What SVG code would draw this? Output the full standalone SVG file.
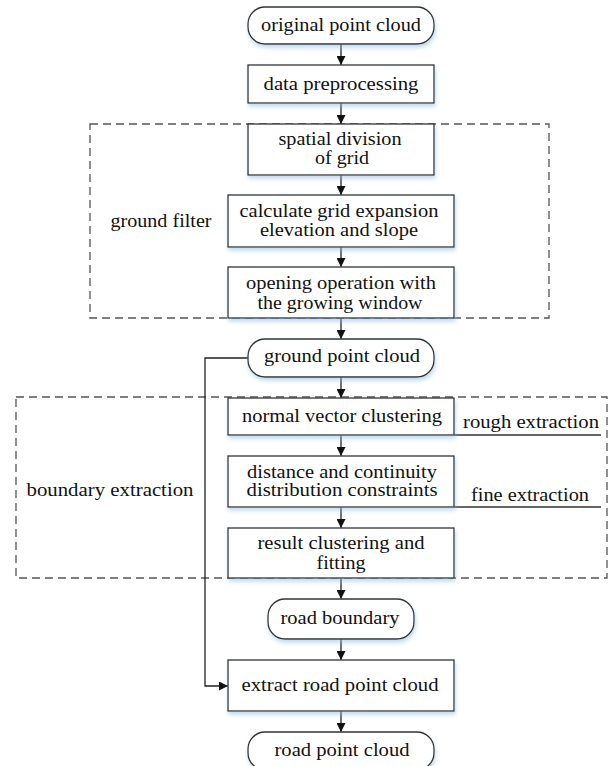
<svg xmlns="http://www.w3.org/2000/svg" width="610" height="766" viewBox="0 0 610 766">
<style>
.box{fill:#fff;stroke:#333;stroke-width:1.3;filter:url(#sh)}
.t{font-family:"Liberation Serif","DejaVu Serif",serif;font-size:19px;fill:#111;text-anchor:middle}
.dash{fill:none;stroke:#555;stroke-width:1.3;stroke-dasharray:8 5}
.ln{fill:none;stroke:#333;stroke-width:1.3}
.ar{fill:none;stroke:#222;stroke-width:1.3;marker-end:url(#ah)}
</style>
<defs>
<filter id="sh" x="-10%" y="-20%" width="130%" height="160%">
<feDropShadow dx="1" dy="3" stdDeviation="2" flood-color="#8fbbe0" flood-opacity="0.55"/>
</filter>
<marker id="ah" viewBox="0 0 10 10" refX="10" refY="5" markerWidth="9" markerHeight="9" markerUnits="userSpaceOnUse" orient="auto">
<path d="M0,0 L10,5 L0,10 z" fill="#111"/>
</marker>
</defs>
<rect width="610" height="766" fill="#fff"/>

<g id="groups">
<rect class="dash" x="90" y="124" width="459" height="194"/>
<rect class="dash" x="16" y="397" width="591" height="181"/>
</g>

<g id="connectors">
<line class="ar" x1="341" y1="44" x2="341" y2="65"/>
<line class="ar" x1="341" y1="103" x2="341" y2="124"/>
<line class="ar" x1="341" y1="175" x2="341" y2="195"/>
<line class="ar" x1="341" y1="247" x2="341" y2="267"/>
<line class="ar" x1="341" y1="318" x2="341" y2="339"/>
<line class="ar" x1="341" y1="377" x2="341" y2="398"/>
<line class="ar" x1="341" y1="435" x2="341" y2="456"/>
<line class="ar" x1="341" y1="507" x2="341" y2="528"/>
<line class="ar" x1="341" y1="578" x2="341" y2="599"/>
<line class="ar" x1="341" y1="639" x2="341" y2="660"/>
<line class="ar" x1="341" y1="711" x2="341" y2="732"/>
<polyline class="ar" points="248,358 205,358 205,686 228,686"/>
<line class="ln" x1="454" y1="435" x2="601" y2="435"/>
<line class="ln" x1="454" y1="507" x2="601" y2="507"/>
</g>

<g id="n-original">
<rect class="box" x="248" y="7" width="186" height="37" rx="17"/>
<text class="t" x="341" y="31" textLength="160" lengthAdjust="spacingAndGlyphs">original point cloud</text>
</g>
<g id="n-preprocess">
<rect class="box" x="248" y="65" width="186" height="38"/>
<text class="t" x="341" y="90" textLength="155" lengthAdjust="spacingAndGlyphs">data preprocessing</text>
</g>
<g id="n-spatial">
<rect class="box" x="248" y="124" width="186" height="51"/>
<text class="t" x="340" y="145" textLength="123" lengthAdjust="spacingAndGlyphs">spatial division</text>
<text class="t" x="342" y="164" textLength="54" lengthAdjust="spacingAndGlyphs">of grid</text>
</g>
<g id="n-calc">
<rect class="box" x="228" y="195" width="226" height="52"/>
<text class="t" x="339" y="217" textLength="199" lengthAdjust="spacingAndGlyphs">calculate grid expansion</text>
<text class="t" x="339" y="236" textLength="158" lengthAdjust="spacingAndGlyphs">elevation and slope</text>
</g>
<g id="n-opening">
<rect class="box" x="228" y="267" width="226" height="51"/>
<text class="t" x="341" y="289" textLength="190" lengthAdjust="spacingAndGlyphs">opening operation with</text>
<text class="t" x="340" y="309" textLength="165" lengthAdjust="spacingAndGlyphs">the growing window</text>
</g>
<g id="n-ground">
<rect class="box" x="248" y="339" width="186" height="38" rx="17"/>
<text class="t" x="342" y="362" textLength="156" lengthAdjust="spacingAndGlyphs">ground point cloud</text>
</g>
<g id="n-normal">
<rect class="box" x="228" y="398" width="226" height="37"/>
<text class="t" x="342" y="422" textLength="200" lengthAdjust="spacingAndGlyphs">normal vector clustering</text>
</g>
<g id="n-distance">
<rect class="box" x="228" y="456" width="226" height="51"/>
<text class="t" x="342" y="478" textLength="190" lengthAdjust="spacingAndGlyphs">distance and continuity</text>
<text class="t" x="342" y="496" textLength="191" lengthAdjust="spacingAndGlyphs">distribution constraints</text>
</g>
<g id="n-result">
<rect class="box" x="228" y="528" width="226" height="50"/>
<text class="t" x="341" y="549" textLength="167" lengthAdjust="spacingAndGlyphs">result clustering and</text>
<text class="t" x="341" y="569" textLength="49" lengthAdjust="spacingAndGlyphs">fitting</text>
</g>
<g id="n-roadboundary">
<rect class="box" x="268" y="599" width="146" height="40" rx="17"/>
<text class="t" x="340" y="624" textLength="119" lengthAdjust="spacingAndGlyphs">road boundary</text>
</g>
<g id="n-extract">
<rect class="box" x="228" y="660" width="226" height="51"/>
<text class="t" x="340" y="691" textLength="197" lengthAdjust="spacingAndGlyphs">extract road point cloud</text>
</g>
<g id="n-roadcloud">
<rect class="box" x="248" y="732" width="186" height="38" rx="17"/>
<text class="t" x="342" y="756" textLength="135" lengthAdjust="spacingAndGlyphs">road point cloud</text>
</g>

<g id="labels">
<text class="t" x="161" y="227" textLength="101" lengthAdjust="spacingAndGlyphs">ground filter</text>
<text class="t" x="110" y="496" textLength="167" lengthAdjust="spacingAndGlyphs">boundary extraction</text>
<text class="t" x="531" y="428" textLength="136" lengthAdjust="spacingAndGlyphs">rough extraction</text>
<text class="t" x="530" y="501" textLength="118" lengthAdjust="spacingAndGlyphs">fine extraction</text>
</g>
</svg>
